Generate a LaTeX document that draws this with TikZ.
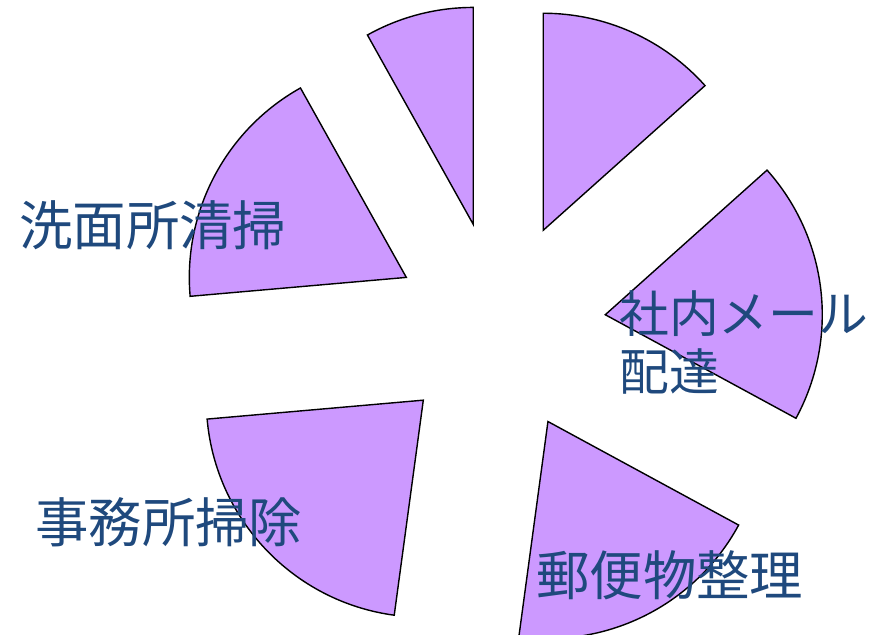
\documentclass[tikz,border=0pt]{standalone}
\usepackage{fontspec}
\newfontfamily\jpfont{Noto Sans CJK JP}
\definecolor{slicefill}{RGB}{204,153,255}
\definecolor{labelblue}{RGB}{31,73,125}
\begin{document}
\begin{tikzpicture}[x=.03cm, y=.03cm,
    slice/.style={draw=black, line width=1.2pt, fill=slicefill},
    lbl/.style={text=labelblue, font=\jpfont\fontsize{45.6}{50}\selectfont, inner sep=0pt, align=left, anchor=west}]
    \clip (-500,-307) rectangle (369,327);
    % exploded slices: start/end angle
    \foreach \a/\b in {41.8/90, 90/119.2, 119.2/185, 185/262.3, 262.3/331.5, 331.5/401.8}{
        \pgfmathsetmacro\m{(\a+\b)/2}
        \draw[slice] (\m:106) -- ++(\a:217) arc (\a:\b:217) -- cycle;
    }
    \node[lbl] (senmen) at (-481,102) {洗面所清掃};
    \node[lbl, font=\jpfont\fontsize{42.5}{50}\selectfont] (shanai) at (119,-15.5) {社内メール\\配達};
    \node[lbl] (jimusho) at (-465,-195) {事務所掃除};
    \node[lbl] (yubin) at (36,-248) {郵便物整理};
\end{tikzpicture}
\end{document}
